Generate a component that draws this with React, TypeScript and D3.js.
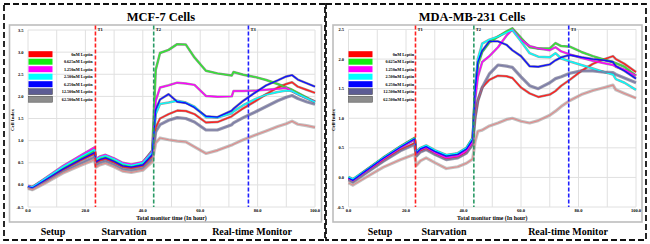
import React from 'react';
import * as d3 from 'd3';

// ---------- data ----------
const SERIES_NAMES = ['0nM Leptin', '0.625nM Leptin', '1.250nM Leptin', '2.500nM Leptin', '6.250nM Leptin', '12.500nM Leptin', '62.500nM Leptin'];
const X_TICKS = [0, 20, 40, 60, 80, 100];
const X_GRID = [0, 10, 20, 30, 40, 50, 60, 70, 80, 90, 100];
const MCF7_Y_TICKS = [-0.5, 0, 0.5, 1, 1.5, 2, 2.5, 3, 3.5];
const MDA_Y_TICKS = [-0.5, 0, 0.5, 1, 1.5, 2, 2.5];
const MARKER_LABELS = ['T1', 'T2', 'T3'];
const MCF7_MARKER_TIMES = [23.5, 43.8, 76.8];
const MDA_MARKER_TIMES = [23.3, 43.6, 76.6];
const PHASE_LABELS = ['Setup', 'Starvation', 'Real-time Monitor'];

const MCF7_TIMES = [0, 1.5, 6, 12, 18, 23.2, 23.7, 25, 27, 30, 33, 36, 40, 43.3, 44.5, 46, 49, 52, 55, 58, 62, 66, 71, 71.6, 75, 79, 83, 87, 90, 92, 94, 97, 100];
const MCF7_0 = [-0.04, -0.07, 0.10, 0.34, 0.54, 0.70, 0.50, 0.55, 0.59, 0.51, 0.41, 0.38, 0.43, 0.65, 1.30, 1.50, 1.60, 1.68, 1.67, 1.60, 1.41, 1.42, 1.55, 1.58, 1.73, 1.88, 2.05, 2.20, 2.28, 2.32, 2.22, 2.15, 2.08];
const MCF7_0625 = [-0.03, -0.06, 0.13, 0.38, 0.60, 0.78, 0.55, 0.60, 0.64, 0.56, 0.46, 0.43, 0.50, 0.78, 2.60, 2.98, 3.05, 3.18, 3.17, 2.88, 2.58, 2.52, 2.47, 2.55, 2.49, 2.44, 2.37, 2.28, 2.20, 2.15, 2.08, 1.98, 1.88];
const MCF7_125 = [-0.02, -0.05, 0.15, 0.42, 0.65, 0.85, 0.59, 0.64, 0.68, 0.60, 0.50, 0.46, 0.52, 0.76, 1.90, 2.20, 2.25, 2.31, 2.29, 2.26, 2.01, 1.99, 2.00, 2.12, 2.12, 2.13, 2.15, 2.17, 2.19, 2.12, 2.05, 1.96, 1.88];
const MCF7_25 = [-0.03, -0.05, 0.14, 0.40, 0.62, 0.80, 0.57, 0.62, 0.66, 0.58, 0.48, 0.44, 0.50, 0.73, 1.60, 1.83, 1.86, 1.90, 1.86, 1.77, 1.53, 1.52, 1.62, 1.66, 1.80, 1.93, 2.04, 2.10, 2.13, 2.12, 2.05, 1.96, 1.87];
const MCF7_625 = [-0.04, -0.07, 0.11, 0.35, 0.56, 0.73, 0.52, 0.57, 0.61, 0.53, 0.43, 0.40, 0.45, 0.68, 1.70, 1.93, 2.05, 1.88, 1.85, 1.75, 1.55, 1.53, 1.68, 1.72, 1.90, 2.08, 2.25, 2.36, 2.45, 2.48, 2.38, 2.30, 2.22];
const MCF7_125_0 = [-0.06, -0.09, 0.07, 0.30, 0.48, 0.63, 0.45, 0.50, 0.54, 0.46, 0.36, 0.33, 0.38, 0.58, 1.20, 1.36, 1.46, 1.52, 1.50, 1.42, 1.24, 1.24, 1.36, 1.40, 1.52, 1.64, 1.77, 1.90, 1.98, 2.02, 1.95, 1.88, 1.82];
const MCF7_625_0 = [-0.08, -0.11, 0.04, 0.26, 0.43, 0.57, 0.40, 0.45, 0.49, 0.41, 0.31, 0.28, 0.33, 0.52, 0.95, 1.06, 1.02, 0.99, 0.97, 0.86, 0.71, 0.78, 0.90, 0.92, 1.02, 1.12, 1.22, 1.32, 1.38, 1.44, 1.37, 1.34, 1.30];

const MDA_TIMES = [0, 1.5, 6, 12, 18, 23, 23.6, 25, 27, 30, 34, 38, 41, 43.2, 44, 45, 46.5, 49, 52, 55, 57, 60, 63, 66, 70, 72, 74, 77, 81, 85, 89, 92, 93, 96, 100];
const MDA_0 = [-0.03, -0.07, 0.08, 0.28, 0.46, 0.58, 0.37, 0.44, 0.48, 0.40, 0.31, 0.34, 0.42, 0.57, 1.00, 1.30, 1.52, 1.65, 1.72, 1.71, 1.68, 1.52, 1.42, 1.36, 1.40, 1.46, 1.55, 1.65, 1.80, 1.92, 2.00, 2.05, 2.00, 1.92, 1.78];
const MDA_0625 = [0.00, -0.04, 0.12, 0.33, 0.52, 0.67, 0.42, 0.49, 0.53, 0.45, 0.37, 0.40, 0.49, 0.66, 1.40, 1.90, 2.12, 2.28, 2.38, 2.47, 2.52, 2.36, 2.20, 2.18, 2.18, 2.27, 2.22, 2.21, 2.12, 2.05, 1.99, 1.95, 1.93, 1.87, 1.72];
const MDA_125 = [-0.02, -0.06, 0.10, 0.31, 0.50, 0.64, 0.40, 0.47, 0.51, 0.42, 0.33, 0.36, 0.45, 0.60, 1.30, 1.70, 1.95, 2.05, 2.20, 2.40, 2.50, 2.33, 2.22, 2.18, 2.15, 2.20, 2.13, 2.08, 2.02, 1.97, 1.93, 1.90, 1.87, 1.82, 1.72];
const MDA_25 = [0.01, -0.03, 0.12, 0.33, 0.52, 0.66, 0.42, 0.50, 0.54, 0.46, 0.38, 0.41, 0.50, 0.67, 1.50, 2.00, 2.26, 2.33, 2.38, 2.45, 2.49, 2.30, 2.10, 2.04, 2.03, 2.10, 2.01, 1.96, 1.90, 1.84, 1.78, 1.74, 1.66, 1.60, 1.48];
const MDA_625 = [-0.01, -0.05, 0.11, 0.32, 0.51, 0.65, 0.41, 0.48, 0.52, 0.44, 0.36, 0.39, 0.48, 0.64, 1.45, 1.95, 2.14, 2.30, 2.30, 2.24, 2.15, 2.05, 1.88, 1.87, 1.91, 1.98, 2.03, 2.07, 2.03, 2.00, 1.98, 1.95, 1.88, 1.80, 1.67];
const MDA_125_0 = [-0.04, -0.08, 0.07, 0.27, 0.45, 0.56, 0.36, 0.43, 0.47, 0.39, 0.30, 0.33, 0.41, 0.56, 1.00, 1.30, 1.52, 1.75, 1.90, 1.88, 1.86, 1.70, 1.55, 1.50, 1.60, 1.67, 1.70, 1.76, 1.80, 1.80, 1.78, 1.77, 1.74, 1.68, 1.60];
const MDA_625_0 = [-0.09, -0.13, 0.00, 0.17, 0.30, 0.39, 0.20, 0.28, 0.33, 0.25, 0.15, 0.18, 0.24, 0.31, 0.60, 0.78, 0.80, 0.87, 0.92, 0.98, 1.00, 0.95, 0.92, 0.96, 1.05, 1.12, 1.20, 1.30, 1.40, 1.47, 1.52, 1.56, 1.48, 1.42, 1.34];

// ---------- styles ----------
const LEGEND_COLORS = ['#ff0000', '#11ee11', '#ff00ff', '#00ffff', '#0000ff', '#5c5c94', '#8c8c8c'];
const CORE_COLORS = ['#ff2020', '#33e833', '#ff00ff', '#00ffff', '#1010ff', '#7a7aa8', '#e08a8a'];
const HALO_COLORS = ['#666666', '#444444', '#666666', '#666666', '#555555', '#555577', '#9a9a9a'];
const MARKER_COLORS = ['#ff2020', '#2a9a66', '#2020ff'];
const FONT = "'Liberation Serif', 'Times New Roman', serif";

type Layout = {
  box: [number, number, number, number];
  frame: [number, number, number, number];
  xRange: [number, number];
  yRange: [number, number];
  titleX: number;
  legendRectX: number;
  legendTextX: number;
  yLabelX: number;
  phaseX: number[];
};

const LEFT_LAYOUT: Layout = {
  box: [4, 4, 321, 236],
  frame: [9.5, 25, 312, 197],
  xRange: [28, 315],
  yRange: [207, 30],
  titleX: 161,
  legendRectX: 28.5,
  legendTextX: 92.5,
  yLabelX: 14,
  phaseX: [53, 124, 252],
};
const RIGHT_LAYOUT: Layout = {
  box: [326, 4, 320, 236],
  frame: [333, 25, 309, 197],
  xRange: [348.5, 636],
  yRange: [207, 29.5],
  titleX: 472,
  legendRectX: 348.5,
  legendTextX: 414,
  yLabelX: 335,
  phaseX: [380, 444, 568],
};

type PanelProps = {
  title: string;
  times: number[];
  series: number[][];
  yTicks: number[];
  markerTimes: number[];
  layout: Layout;
};

function Panel({ title, times, series, yTicks, markerTimes, layout }: PanelProps) {
  const x = d3.scaleLinear().domain([0, 100]).range(layout.xRange);
  const y = d3.scaleLinear().domain([yTicks[0], yTicks[yTicks.length - 1]]).range(layout.yRange);
  const line = d3.line<number>().x((_, i) => x(times[i])).y((v) => y(v));
  const [bx, by, bw, bh] = layout.box;
  const [fx, fy, fw, fh] = layout.frame;
  const yTop = layout.yRange[1];
  const yBot = layout.yRange[0];
  const plotCx = (layout.xRange[0] + layout.xRange[1]) / 2;
  return (
    <g fontFamily={FONT} fontWeight="bold">
      <rect x={bx} y={by} width={bw} height={bh} fill="none" stroke="#111" strokeWidth={1.8} strokeDasharray="6 3" />
      <text x={layout.titleX} y={20.5} textAnchor="middle" fontSize={12.5} fill="#000">{title}</text>
      <rect x={fx} y={fy} width={fw} height={fh} fill="#fff" stroke="#bdbdbd" strokeWidth={1.6} />
      {yTicks.map((t) => (
        <line key={'hy' + t} x1={layout.xRange[0]} x2={layout.xRange[1]} y1={y(t)} y2={y(t)} stroke="#e0e0e0" strokeWidth={1} />
      ))}
      {X_GRID.map((t) => (
        <line key={'vx' + t} x1={x(t)} x2={x(t)} y1={yTop} y2={yBot} stroke="#e0e0e0" strokeWidth={1} />
      ))}
      {yTicks.map((t) => (
        <text key={'yt' + t} x={layout.xRange[0] - 4.5} y={y(t) + 1.5} textAnchor="end" fontSize={4.5} fill="#000">{t.toFixed(1)}</text>
      ))}
      {X_TICKS.map((t) => (
        <text key={'xt' + t} x={x(t)} y={212} textAnchor="middle" fontSize={4.5} fill="#000">{t.toFixed(1)}</text>
      ))}
      <text x={plotCx} y={219.5} textAnchor="middle" fontSize={5.8} fill="#000">Total monitor time (In hour)</text>
      <text transform={`translate(${layout.yLabelX},${120}) rotate(-90)`} textAnchor="middle" fontSize={5} fill="#000">Cell Index</text>
      {series.map((vals, i) => (
        <path key={'h' + i} d={line(vals) || ''} fill="none" stroke={HALO_COLORS[i]} strokeWidth={i >= 5 ? 3.2 : 2.5} strokeOpacity={0.6} strokeLinejoin="round" />
      ))}
      {series.map((vals, i) => (
        <path key={'c' + i} d={line(vals) || ''} fill="none" stroke={CORE_COLORS[i]} strokeWidth={i >= 5 ? 1.1 : 1.4} strokeLinejoin="round" />
      ))}
      {markerTimes.map((t, i) => (
        <g key={'m' + i}>
          <line x1={x(t)} x2={x(t)} y1={fy + 0.5} y2={yBot} stroke={MARKER_COLORS[i]} strokeWidth={1.6} strokeDasharray="4 2" />
          <text x={x(t) + 2} y={31} fontSize={4.5} fill="#000">{MARKER_LABELS[i]}</text>
        </g>
      ))}
      {SERIES_NAMES.map((name, i) => {
        const cy = 54.2 + i * 7.5;
        return (
          <g key={'l' + i}>
            <rect x={layout.legendRectX} y={cy - 3} width={24} height={6} fill={LEGEND_COLORS[i]} stroke={i >= 5 ? '#444' : 'none'} strokeWidth={0.5} />
            <text x={layout.legendTextX} y={cy + 1.5} textAnchor="end" fontSize={4.2} fill="#000">{name}</text>
          </g>
        );
      })}
      {PHASE_LABELS.map((p, i) => (
        <text key={'p' + i} x={layout.phaseX[i]} y={234.5} textAnchor="middle" fontSize={10} fill="#000">{p}</text>
      ))}
    </g>
  );
}

export default function App() {
  return (
    <svg width={650} height={244} style={{ position: 'absolute', left: 0, top: 0, background: '#fff' }}>
      <rect x={0} y={0} width={650} height={244} fill="#fff" />
      <Panel
        title="MCF-7 Cells"
        times={MCF7_TIMES}
        series={[MCF7_0, MCF7_0625, MCF7_125, MCF7_25, MCF7_625, MCF7_125_0, MCF7_625_0]}
        yTicks={MCF7_Y_TICKS}
        markerTimes={MCF7_MARKER_TIMES}
        layout={LEFT_LAYOUT}
      />
      <Panel
        title="MDA-MB-231 Cells"
        times={MDA_TIMES}
        series={[MDA_0, MDA_0625, MDA_125, MDA_25, MDA_625, MDA_125_0, MDA_625_0]}
        yTicks={MDA_Y_TICKS}
        markerTimes={MDA_MARKER_TIMES}
        layout={RIGHT_LAYOUT}
      />
    </svg>
  );
}
